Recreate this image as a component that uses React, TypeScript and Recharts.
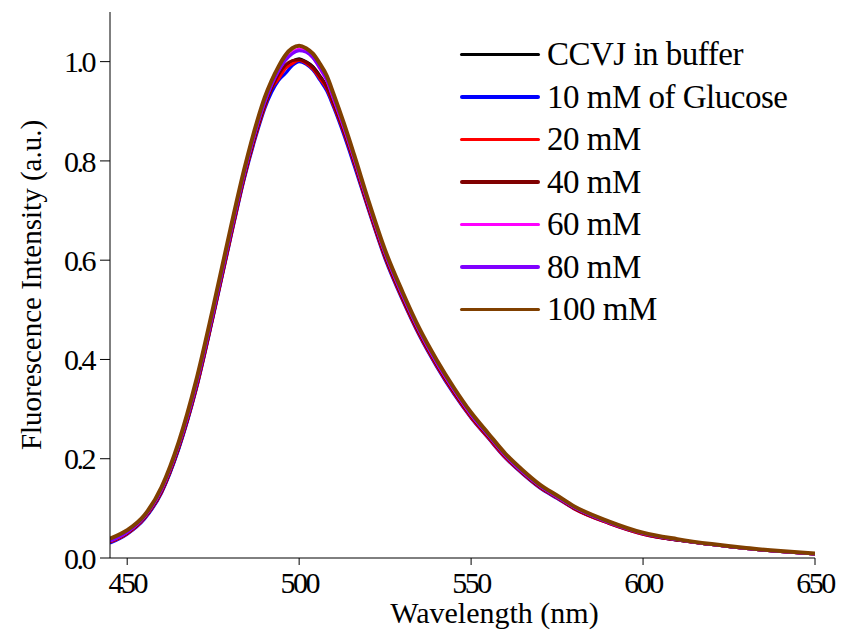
import React from 'react'
import { LineChart, Line, XAxis, YAxis } from 'recharts'

const FONT = 'Liberation Serif, Tinos, Times New Roman, Times, DejaVu Serif, serif'

// wavelength grid (nm)
const wavelengths = [445, 450, 455, 460, 465, 470, 475, 480, 484, 488, 490, 492, 494, 496, 498, 500, 502, 504, 506, 508, 510, 513, 516, 520, 525, 530, 535, 540, 545, 550, 555, 560, 565, 570, 575, 580, 590, 600, 610, 620, 630, 640, 650]

const buffer = [.032, .050, .080, .133, .221, .340, .488, .645, .766, .868, .910, .944, .972, .990, 1.001, 1.006, 1.000, .990, .972, .950, .916, .860, .797, .709, .607, .524, .450, .388, .333, .284, .243, .203, .171, .143, .122, .100, .071, .049, .036, .027, .019, .013, .008]
const mM10 = [.030, .048, .078, .131, .219, .337, .485, .641, .762, .862, .905, .938, .962, .976, .992, 1.000, .995, .983, .963, .941, .908, .852, .790, .704, .602, .520, .447, .385, .330, .282, .241, .201, .169, .141, .120, .099, .070, .048, .036, .027, .019, .013, .008]
const mM20 = [.032, .049, .080, .133, .222, .339, .487, .643, .765, .866, .909, .946, .965, .986, .996, 1.003, .997, .985, .966, .946, .912, .857, .795, .707, .605, .522, .449, .387, .332, .283, .242, .202, .170, .142, .121, .099, .070, .048, .036, .027, .019, .013, .008]
const mM40 = [.033, .050, .081, .134, .223, .341, .489, .646, .767, .868, .911, .946, .974, .993, 1.002, 1.004, .999, .988, .970, .949, .915, .859, .797, .709, .607, .524, .451, .389, .334, .285, .244, .204, .171, .143, .122, .100, .071, .049, .036, .027, .019, .013, .008]
const mM60 = [.034, .052, .083, .138, .228, .348, .496, .653, .774, .876, .919, .954, .982, 1.004, 1.018, 1.025, 1.021, 1.008, .986, .962, .925, .867, .804, .715, .613, .530, .456, .393, .338, .288, .247, .206, .173, .145, .123, .102, .072, .050, .037, .027, .019, .013, .008]
const mM80 = [.034, .052, .083, .138, .228, .347, .495, .652, .773, .875, .918, .953, .981, 1.002, 1.016, 1.022, 1.019, 1.008, .988, .964, .927, .869, .806, .717, .614, .531, .457, .394, .339, .289, .247, .206, .173, .145, .123, .102, .072, .050, .037, .027, .019, .013, .008]
const mM100 = [.039, .056, .086, .143, .234, .356, .505, .662, .782, .885, .928, .962, .990, 1.013, 1.027, 1.032, 1.027, 1.016, .996, .972, .935, .876, .812, .723, .620, .537, .462, .399, .343, .293, .251, .210, .177, .148, .126, .104, .074, .051, .038, .028, .020, .014, .009]

const xTicks = [450, 500, 550, 600, 650]
const yTicks = [0, 0.2, 0.4, 0.6, 0.8, 1.0]

const series = [
  { key: 'buffer', name: 'CCVJ in buffer', color: '#000000', values: buffer, width: 3 },
  { key: 'mM10', name: '10 mM of Glucose', color: '#0000ff', values: mM10, width: 3 },
  { key: 'mM20', name: '20 mM', color: '#ff0000', values: mM20, width: 3 },
  { key: 'mM40', name: '40 mM', color: '#800000', values: mM40, width: 3 },
  { key: 'mM60', name: '60 mM', color: '#ff00ff', values: mM60, width: 3 },
  { key: 'mM80', name: '80 mM', color: '#8000ff', values: mM80, width: 3 },
  { key: 'mM100', name: '100 mM', color: '#804000', values: mM100, width: 4 },
]

const data = wavelengths.map((w, i) => {
  const row: Record<string, number> = { w }
  series.forEach(s => { row[s.key] = s.values[i] })
  return row
})

const tickStyle = { fill: '#000', fontSize: 30, fontFamily: FONT, letterSpacing: -2.5 }
const titleStyle = { fill: '#000', fontSize: 30, fontFamily: FONT, textAnchor: 'middle' as const }

function SpectraLegend() {
  return (
    <div style={{ position: 'absolute', left: 460, top: 33, fontFamily: FONT, fontSize: 33, color: '#000' }}>
      {series.map(s => (
        <div key={s.key} style={{ display: 'flex', alignItems: 'center', height: 42.5, whiteSpace: 'nowrap' }}>
          <div style={{ width: 80, height: 3.5, background: s.color, marginRight: 7, borderRadius: 2 }} />
          <span style={{ lineHeight: '42.5px', letterSpacing: -0.5 }}>{s.name}</span>
        </div>
      ))}
    </div>
  )
}

export default function App() {
  return (
    <div style={{ position: 'absolute', left: 0, top: 0, width: 841, height: 637, background: '#fff', fontFamily: FONT }}>
      <LineChart width={841} height={637} data={data} margin={{ top: 12, right: 26, left: 0, bottom: 0 }} style={{ fontFamily: FONT }}>
        <XAxis
          dataKey="w" type="number" domain={[445, 650]} ticks={xTicks} allowDataOverflow interval={0}
          height={79} tickSize={7} tickMargin={7} stroke="#000" tick={tickStyle}
          label={{ value: 'Wavelength (nm)', position: 'insideBottom', offset: 14, dx: 32, style: titleStyle }}
        />
        <YAxis
          type="number" domain={[0, 1.1]} ticks={yTicks} allowDataOverflow interval={0}
          width={110} tickSize={10} tickMargin={6} stroke="#000" tick={tickStyle}
          tickFormatter={(v: number) => v.toFixed(1)}
          label={{ value: 'Fluorescence Intensity (a.u.)', angle: -90, position: 'insideLeft', offset: 31, style: { ...titleStyle, fontSize: 29 } }}
        />
        <XAxis xAxisId="top" orientation="top" type="number" domain={[445, 650]} height={0} tick={false} tickLine={false} stroke="#808080" />
        <YAxis yAxisId="right" orientation="right" type="number" domain={[0, 1.1]} width={0} tick={false} tickLine={false} stroke="#808080" />
        {series.map(s => (
          <Line
            key={s.key} dataKey={s.key} name={s.name} type="monotone"
            stroke={s.color} strokeWidth={s.width} dot={false} activeDot={false}
            isAnimationActive={false}
          />
        ))}
      </LineChart>
      <SpectraLegend />
    </div>
  )
}
